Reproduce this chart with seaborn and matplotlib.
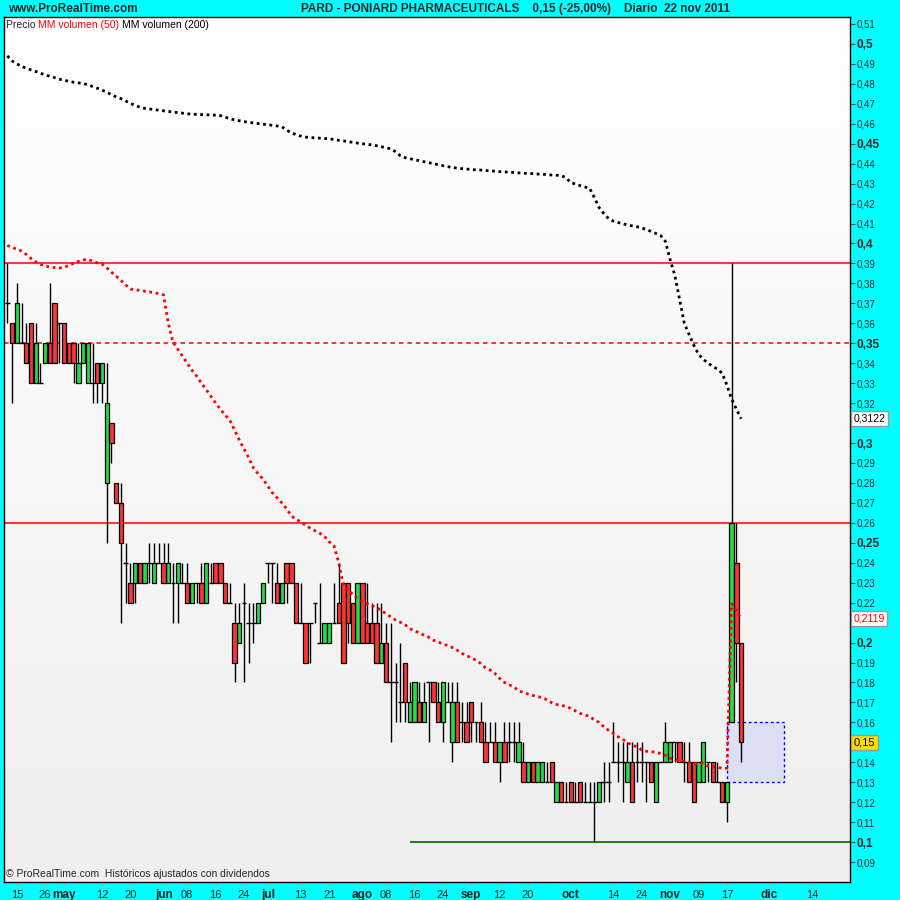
import numpy as np
import pandas as pd
import matplotlib
matplotlib.use("Agg")
import matplotlib.pyplot as plt
import matplotlib.transforms as mtransforms
from matplotlib.colors import LinearSegmentedColormap
from matplotlib.patches import Rectangle
import seaborn as sns

# trading calendar of the window (US market holidays)
first_day = "2011-04-13"
holidays = ["2011-04-22", "2011-05-30", "2011-07-04", "2011-09-05", "2011-11-24", "2011-12-26"]

# daily prices in cents, one value per session (13 apr -> 22 nov 2011)
open_c = [37, 36, 35, 35, 35, 36, 33, 33, 34, 35,
          37, 36, 36, 35, 35, 33, 34, 33, 33, 34,
          33, 28, 31, 28, 27, 24, 23, 23, 24, 23,
          24, 23, 24, 24, 23, 23, 23, 23, 23, 22,
          23, 23, 22, 23, 24, 24, 23, 22, 21, 20,
          22, 21, 21, 21, 22, 24, 24, 23, 22, 24,
          24, 23, 21, 21, 21, 22, 20, 20, 20, 21,
          22, 23, 23, 22, 20, 23, 21, 21, 21, 19,
          20, 18, 18, 17, 19, 16, 16, 17, 16, 18,
          18, 17, 16, 17, 15, 17, 16, 16, 17, 16,
          16, 15, 15, 15, 14, 15, 15, 15, 14, 14,
          13, 14, 13, 13, 13, 14, 12, 13, 12, 13,
          12, 13, 12, 12, 12, 12, 13, 13, 14, 14,
          14, 13, 14, 14, 14, 14, 14, 12, 14, 14,
          14, 15, 15, 14, 14, 14, 13, 13, 14, 14,
          13, 13, 12, 16, 24, 20]
high_c = [39, 36, 38, 37, 36, 36, 36, 34, 35, 38,
          37, 36, 36, 35, 35, 35, 35, 35, 35, 34,
          34, 34, 31, 28, 28, 25, 24, 24, 24, 24,
          25, 25, 25, 25, 25, 24, 24, 24, 24, 23,
          23, 24, 24, 24, 24, 24, 23, 23, 22, 22,
          23, 22, 22, 22, 23, 24, 24, 24, 23, 24,
          24, 23, 23, 21, 21, 22, 23, 21, 21, 23,
          24, 23, 23, 22, 23, 23, 23, 22, 22, 22,
          21, 21, 19, 20, 19, 18, 18, 18, 18, 18,
          18, 18, 18, 18, 18, 18, 17, 17, 17, 16,
          17, 16, 16, 16, 15, 16, 16, 16, 16, 15,
          14, 14, 14, 14, 14, 14, 13, 13, 13, 13,
          13, 13, 13, 13, 13, 13, 14, 14, 16, 15,
          15, 15, 15, 15, 15, 14, 14, 14, 14, 16,
          15, 15, 15, 15, 15, 14, 14, 15, 14, 14,
          14, 13, 13, 39, 26, 20]
low_c = [36, 32, 35, 35, 34, 33, 33, 33, 34, 34,
         34, 34, 34, 34, 33, 33, 34, 33, 32, 32,
         32, 25, 29, 27, 21, 22, 22, 22, 23, 23,
         23, 23, 24, 23, 23, 21, 21, 23, 22, 22,
         22, 22, 22, 23, 23, 23, 22, 22, 18, 20,
         18, 19, 20, 21, 22, 23, 22, 22, 22, 22,
         23, 21, 21, 19, 19, 21, 20, 20, 20, 21,
         21, 19, 20, 20, 20, 20, 20, 20, 19, 19,
         18, 15, 16, 16, 16, 16, 16, 16, 16, 15,
         17, 16, 15, 17, 14, 15, 15, 15, 15, 15,
         15, 14, 15, 14, 13, 14, 14, 14, 14, 13,
         13, 13, 13, 13, 13, 13, 12, 12, 12, 12,
         12, 12, 12, 12, 10, 12, 12, 12, 14, 13,
         12, 13, 12, 13, 13, 12, 13, 12, 14, 14,
         14, 14, 14, 13, 13, 12, 13, 13, 13, 13,
         13, 12, 11, 16, 18, 14]
close_c = [37, 35, 37, 35, 34, 33, 35, 33, 35, 34,
           34, 36, 34, 34, 34, 34, 35, 35, 33, 33,
           34, 32, 30, 27, 25, 24, 22, 24, 23, 24,
           24, 24, 24, 23, 24, 23, 24, 23, 22, 23,
           23, 22, 24, 23, 23, 23, 22, 22, 19, 21,
           22, 21, 21, 22, 23, 24, 24, 22, 23, 23,
           23, 21, 21, 19, 21, 22, 20, 21, 21, 21,
           21, 19, 21, 20, 23, 20, 20, 20, 19, 20,
           18, 18, 18, 17, 17, 17, 18, 16, 17, 18,
           17, 16, 18, 17, 17, 15, 16, 15, 16, 16,
           15, 14, 15, 14, 15, 14, 15, 15, 15, 13,
           14, 13, 14, 14, 13, 13, 13, 12, 12, 12,
           12, 12, 12, 12, 12, 13, 13, 13, 14, 14,
           14, 14, 12, 14, 14, 14, 13, 14, 14, 15,
           15, 15, 14, 14, 13, 12, 14, 15, 14, 13,
           13, 12, 13, 26, 20, 15]

# moving averages
ma50 = [.3990, .3980, .3972, .3962, .3945, .3925, .3908, .3895, .3887, .3882,
        .3879, .3877, .3880, .3890, .3900, .3910, .3918, .3920, .3912, .3903,
        .3897, .3878, .3856, .3836, .3815, .3792, .3772, .3768, .3765, .3761,
        .3757, .3754, .3748, .3742, .3600, .3505, .3470, .3435, .3400, .3365,
        .3335, .3300, .3268, .3235, .3200, .3170, .3140, .3115, .3065, .3015,
        .2970, .2925, .2875, .2845, .2820, .2785, .2750, .2725, .2700, .2670,
        .2635, .2617, .2605, .2588, .2573, .2560, .2548, .2532, .2505, .2485,
        .2400, .2285, .2265, .2240, .2220, .2207, .2195, .2185, .2175, .2160,
        .2145, .2128, .2113, .2102, .2090, .2070, .2058, .2050, .2037, .2027,
        .2012, .2003, .1993, .1985, .1975, .1962, .1946, .1935, .1923, .1912,
        .1895, .1874, .1862, .1845, .1820, .1800, .1788, .1778, .1758, .1750,
        .1742, .1735, .1729, .1724, .1713, .1698, .1690, .1685, .1680, .1670,
        .1658, .1645, .1637, .1630, .1612, .1600, .1578, .1560, .1545, .1528,
        .1515, .1498, .1485, .1478, .1462, .1455, .1453, .1450, .1444, .1435,
        .1421, .1412, .1408, .1406, .1400, .1392, .1393, .1395, .1380, .1378,
        .1375, .1370, .1370, .2195, .2160, .2119]
ma200 = [.4940, .4915, .4900, .4888, .4878, .4870, .4862, .4853, .4845, .4838,
         .4831, .4823, .4818, .4813, .4808, .4805, .4802, .4795, .4787, .4778,
         .4769, .4758, .4746, .4734, .4726, .4714, .4702, .4692, .4683, .4677,
         .4674, .4671, .4668, .4665, .4662, .4659, .4656, .4653, .4650, .4648,
         .4647, .4646, .4645, .4644, .4643, .4641, .4633, .4626, .4619, .4615,
         .4611, .4607, .4604, .4601, .4598, .4595, .4592, .4589, .4585, .4568,
         .4555, .4545, .4538, .4533, .4531, .4529, .4528, .4526, .4525, .4521,
         .4517, .4514, .4510, .4507, .4503, .4500, .4497, .4494, .4490, .4485,
         .4480, .4474, .4460, .4440, .4430, .4425, .4420, .4415, .4410, .4405,
         .4400, .4395, .4390, .4385, .4381, .4378, .4375, .4373, .4371, .4369,
         .4368, .4366, .4364, .4362, .4360, .4359, .4357, .4356, .4354, .4352,
         .4351, .4350, .4348, .4347, .4345, .4343, .4342, .4340, .4330, .4305,
         .4298, .4290, .4283, .4277, .4230, .4180, .4150, .4125, .4112, .4105,
         .4099, .4093, .4088, .4084, .4078, .4070, .4060, .4050, .4040, .4010,
         .3920, .3840, .3720, .3600, .3545, .3490, .3445, .3420, .3400, .3385,
         .3370, .3350, .3290, .3220, .3170, .3122]

# x axis labels
tick_dates = ["2011-04-15", "2011-04-26", "2011-05-02", "2011-05-12", "2011-05-20",
              "2011-06-01", "2011-06-08", "2011-06-16", "2011-06-24", "2011-07-01",
              "2011-07-13", "2011-07-21", "2011-08-01", "2011-08-08", "2011-08-16",
              "2011-08-24", "2011-09-01", "2011-09-12", "2011-09-20", "2011-10-03",
              "2011-10-14", "2011-10-24", "2011-11-01", "2011-11-09", "2011-11-17",
              "2011-12-01", "2011-12-14"]
tick_labels = ["15", "26", "may", "12", "20", "jun", "08", "16", "24", "jul",
               "13", "21", "ago", "08", "16", "24", "sep", "12", "20", "oct",
               "14", "24", "nov", "09", "17", "dic", "14"]

# drawn levels
res_solid = [0.39, 0.26]
res_dashed = 0.35
support = 0.10
support_start = "2011-08-15"
box_start, box_end = "2011-11-17", "2011-12-06"
box_low, box_high = 0.13, 0.16

# session -> x position
days = pd.bdate_range(first_day, "2011-12-31", freq="C", holidays=holidays)
pos = {d.strftime("%Y-%m-%d"): i for i, d in enumerate(days)}

o = np.array(open_c) / 100
h = np.array(high_c) / 100
l = np.array(low_c) / 100
c = np.array(close_c) / 100
idx = np.arange(len(o))

sns.set_style("white")
plt.rcParams["font.family"] = ["Liberation Sans", "DejaVu Sans"]

fig = plt.figure(figsize=(9, 9), dpi=100, facecolor="#00ffff")
ax = fig.add_axes([4 / 900, 18 / 900, 846 / 900, 865 / 900])
x0, x1 = -0.7, 178.0
y0, y1 = 0.080, 0.5135

# background gradient
bg = LinearSegmentedColormap.from_list("bg", ["#efefef", "#ffffff"])
ax.imshow(np.linspace(0, 1, 256).reshape(-1, 1), cmap=bg, extent=[x0, x1, y0, y1],
          origin="lower", aspect="auto", zorder=0)

# horizontal levels
for lev in res_solid:
    ax.axhline(lev, color="red", lw=1.1, zorder=1)
ax.axhline(res_dashed, color="red", lw=1.1, ls=(0, (3, 2.5)), zorder=1)
ax.hlines(support, pos[support_start], x1, color="green", lw=1.3, zorder=1)
ax.add_patch(Rectangle((pos[box_start], box_low), pos[box_end] - pos[box_start], box_high - box_low,
                       fc="#dbe0f5", ec="blue", lw=1, ls=(0, (2, 2)), zorder=1.5))

# candles
up = c > o
down = c < o
flat = c == o
ax.vlines(idx, l, h, color="black", lw=1, zorder=2)
ax.bar(idx[up], (c - o)[up], bottom=o[up], width=0.92, color="#22dd44",
       edgecolor="black", lw=0.9, zorder=3)
ax.bar(idx[down], (o - c)[down], bottom=c[down], width=0.92, color="#ff3333",
       edgecolor="black", lw=0.9, zorder=3)
ax.hlines(o[flat], idx[flat] - 0.5, idx[flat] + 0.5, color="black", lw=1, zorder=3)

# moving averages
sns.lineplot(x=idx, y=ma200, ax=ax, color="black", lw=2, linestyle=(0, (1, 1.3)), zorder=4, legend=False)
sns.lineplot(x=idx, y=ma50, ax=ax, color="red", lw=2, linestyle=(0, (1, 1.3)), zorder=4, legend=False)

ax.set_xlim(x0, x1)
ax.set_ylim(y0, y1)
ax.set_xlabel("")
ax.set_ylabel("")

# axes styling
for s in ax.spines.values():
    s.set_color("black")
    s.set_linewidth(1)

ax.set_xticks([pos[d] for d in tick_dates])
ax.set_xticklabels(tick_labels)
ax.tick_params(axis="x", bottom=True, length=3.2, color="#e09090", labelsize=8, pad=6)
for t in ax.get_xticklabels():
    t.set_verticalalignment("center")
    if t.get_text().isalpha():
        t.set_fontweight("bold")
        t.set_fontsize(8.5)

# price scale; labels hidden under the value boxes are left blank
boxed = [ma200[-1], ma50[-1], c[-1]]
ycents = np.arange(9, 52)
ylab = []
for k in ycents:
    if min(abs(k / 100 - b) for b in boxed) < 0.006:
        ylab.append("")
    elif k % 5 == 0:
        ylab.append(f"{k / 100:g}".replace(".", ","))
    else:
        ylab.append(f"{k / 100:.2f}".replace(".", ","))
ax.yaxis.tick_right()
ax.set_yticks(ycents / 100)
ax.set_yticklabels(ylab)
ax.tick_params(axis="y", right=True, length=3.6, color="#555555", labelsize=7, pad=1)
for k, t in zip(ycents, ax.get_yticklabels()):
    if k % 5 == 0:
        t.set_fontweight("bold")
        t.set_fontsize(8.5)

# value boxes on the price scale
tr = mtransforms.blended_transform_factory(ax.transAxes, ax.transData)
ax.text(1.004, ma200[-1], f"{ma200[-1]:.4f}".replace(".", ","), transform=tr, va="center", ha="left",
        fontsize=7.5, color="black", bbox=dict(boxstyle="square,pad=0.25", fc="white", ec="#999999"), zorder=6)
ax.text(1.004, ma50[-1], f"{ma50[-1]:.4f}".replace(".", ","), transform=tr, va="center", ha="left",
        fontsize=7.5, color="red", bbox=dict(boxstyle="square,pad=0.25", fc="white", ec="#999999"), zorder=6)
ax.text(1.004, c[-1], f"{c[-1]:.2f}".replace(".", ","), transform=tr, va="center", ha="left",
        fontsize=8, color="black", bbox=dict(boxstyle="square,pad=0.25", fc="#ffdd00", ec="#999999"), zorder=6)

# header
chg = (c[-1] / c[-2] - 1) * 100
fig.text(8 / 900, 1 - 9 / 900, "www.ProRealTime.com", fontsize=8.5, fontweight="bold", va="center")
fig.text(516 / 900, 1 - 9 / 900,
         f"PARD - PONIARD PHARMACEUTICALS    {c[-1]:.2f} ({chg:.2f}%)    Diario  22 nov 2011".replace(".", ","),
         fontsize=8.5, fontweight="bold", va="center", ha="center")

# legend line inside the chart
t1 = ax.text(2 / 846, 1 - 8 / 865, "Precio ", transform=ax.transAxes, fontsize=7.5, va="center", ha="left")
t2 = ax.annotate("MM volumen (50) ", xy=(1, 0), xycoords=t1, fontsize=7.5, color="red", va="bottom", ha="left")
ax.annotate("MM volumen (200)", xy=(1, 0), xycoords=t2, fontsize=7.5, color="black", va="bottom", ha="left")

ax.text(2 / 846, 8 / 865, "\u00a9 ProRealTime.com  Hist\u00f3ricos ajustados con dividendos",
        transform=ax.transAxes, fontsize=7.5, va="center", ha="left")

fig.savefig("out.png", dpi=100, facecolor=fig.get_facecolor())
